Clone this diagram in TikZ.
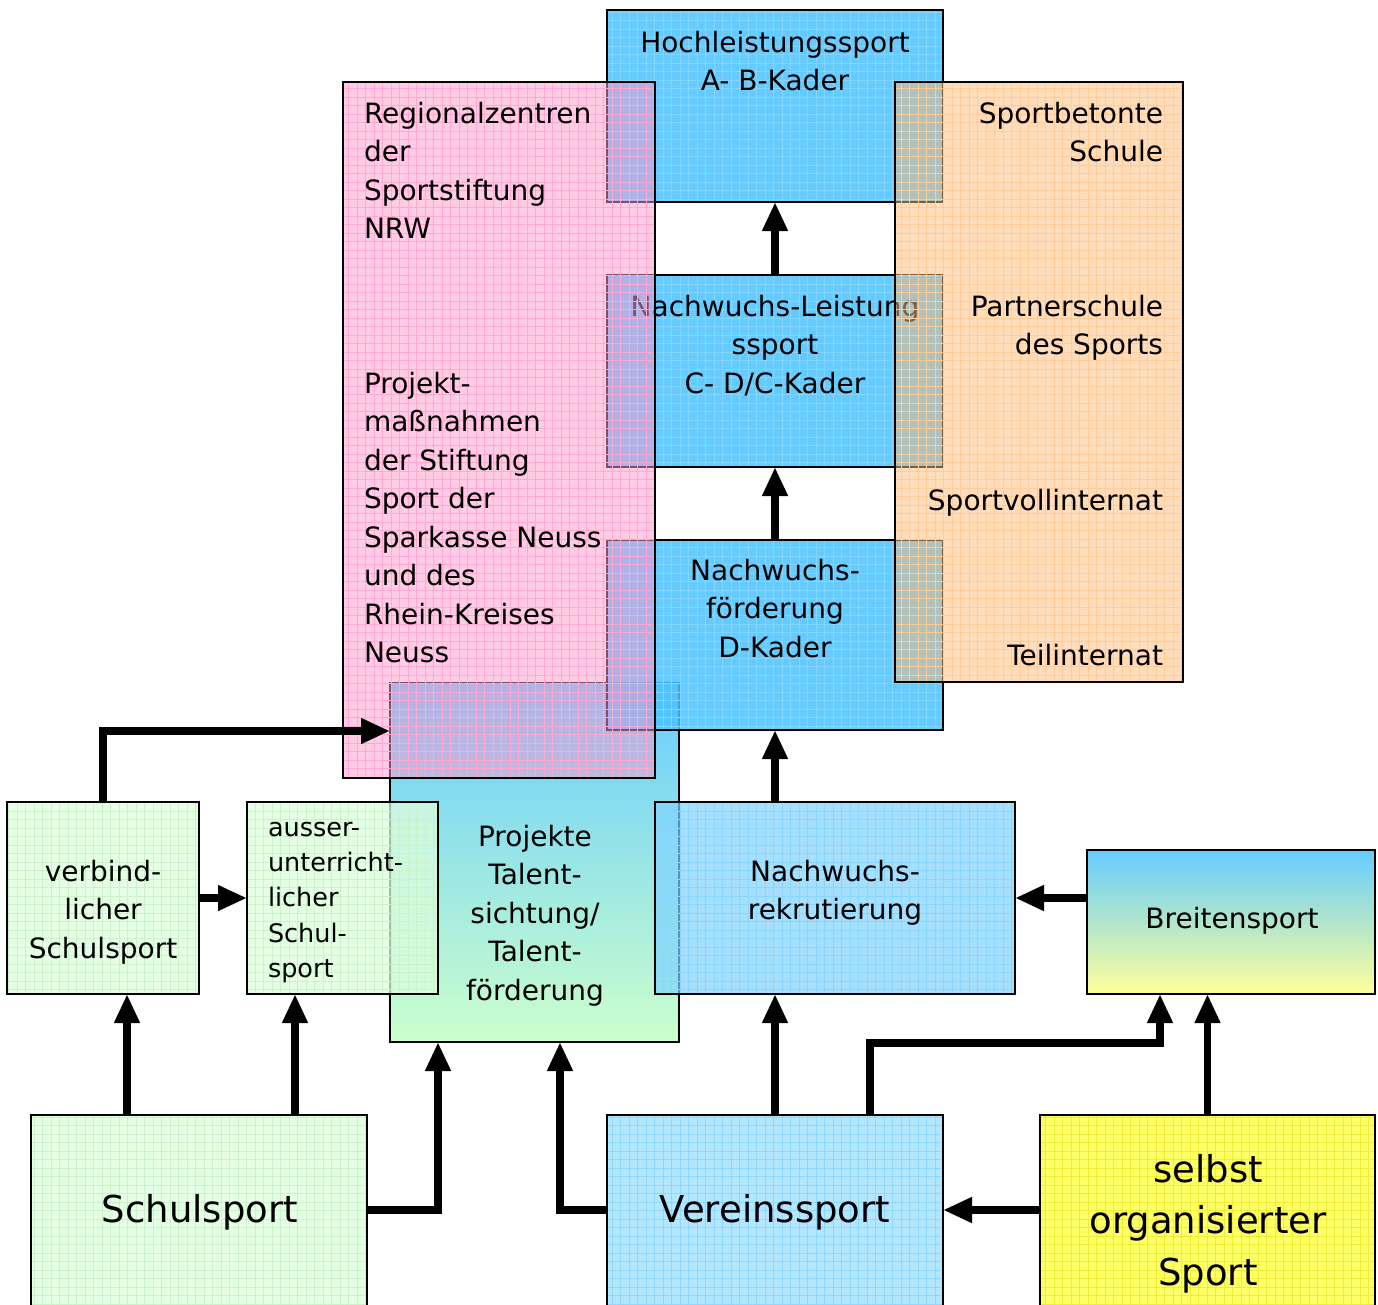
\documentclass[tikz,border=0pt]{standalone}
\usepackage{fontspec}
\setmainfont{DejaVu Sans}
\usetikzlibrary{arrows.meta,patterns.meta}
\definecolor{blueA}{HTML}{4BC3FF}
\definecolor{blueG}{HTML}{80D6FF}
\definecolor{blueTop}{HTML}{66CCFF}
\definecolor{pinkF}{HTML}{FF99CC}
\definecolor{pinkG}{HTML}{FFA8D4}
\definecolor{oraF}{HTML}{FFBB77}
\definecolor{oraG}{HTML}{FFCB98}
\definecolor{grnF}{HTML}{DDFFDD}
\definecolor{grnG}{HTML}{CCF2CC}
\definecolor{rekF}{HTML}{80D4FF}
\definecolor{rekG}{HTML}{8AD6FF}
\definecolor{verF}{HTML}{B3E6FF}
\definecolor{verG}{HTML}{8FD7FF}
\definecolor{yelF}{HTML}{FFFF66}
\definecolor{yelG}{HTML}{EEEE3A}
\definecolor{projB}{HTML}{CCFFCC}
\definecolor{breitM}{HTML}{D6EDC4}
\definecolor{breitB}{HTML}{FFFF99}
\begin{document}
\begin{tikzpicture}[x=1pt,y=-1pt,
  box/.style={draw=black, line width=1.6pt, inner sep=0pt, outer sep=0pt},
  gridpat/.style={pattern={Hatch[distance=8.5pt,line width=.6pt]}},
  bluebox/.style={box, preaction={fill=blueA, fill opacity=.85}, gridpat, pattern color=blueG},
  pinkbox/.style={box, preaction={fill=pinkF, fill opacity=.5}, gridpat, pattern color=pinkG},
  orabox/.style={box, preaction={fill=oraF, fill opacity=.5}, gridpat, pattern color=oraG},
  grnbox/.style={box, preaction={fill=grnF, fill opacity=.75}, gridpat, pattern color=grnG},
  rekbox/.style={box, preaction={fill=rekF, fill opacity=.7}, gridpat, pattern color=rekG},
  verbox/.style={box, preaction={fill=verF}, gridpat, pattern color=verG},
  yelbox/.style={box, preaction={fill=yelF}, gridpat, pattern color=yelG},
  txt/.style={inner sep=0pt, outer sep=0pt, font=\fontsize{28}{38.5}\selectfont},
  smalltxt/.style={inner sep=0pt, outer sep=0pt, font=\fontsize{25.5}{35.3}\selectfont, align=left},
  bigtxt/.style={inner sep=0pt, outer sep=0pt, font=\fontsize{37}{51.5}\selectfont, align=center},
  arr/.style={line width=7.5pt, -{Triangle[length=29pt,width=24pt]}}
]
\useasboundingbox[fill=white] (0,0) rectangle (1378,1304);

% Projekte box (gradient) underneath
\node[box, top color=blueTop, bottom color=projB, minimum width=289pt, minimum height=359pt] (proj) at (534.5,862.5) {};

% blue pyramid boxes
\node[bluebox, minimum width=336pt, minimum height=192pt] (hoch) at (775,106) {};
\node[txt, align=center, anchor=north] (hocht) at (775,31) {Hochleistungssport\\A- B-Kader};
\node[bluebox, minimum width=336pt, minimum height=192pt] (nl) at (775,371) {};
\node[txt, align=center, anchor=north] (nlt) at (775,295) {Nachwuchs-Leistung\\ssport\\C- D/C-Kader};
\node[bluebox, minimum width=336pt, minimum height=190pt] (nf) at (775,635) {};
\node[txt, align=center, anchor=north] (nft) at (775,559) {Nachwuchs-\\förderung\\D-Kader};

% pink and orange columns (semi-transparent, on top)
\node[pinkbox, minimum width=312pt, minimum height=696pt] (reg) at (499,430) {};
\node[txt, align=left, anchor=north west] (regt1) at (364,102) {Regionalzentren\\der\\Sportstiftung\\NRW};
\node[txt, align=left, anchor=north west] (regt2) at (364,372) {Projekt-\\maßnahmen\\der Stiftung\\Sport der\\Sparkasse Neuss\\und des\\Rhein-Kreises\\Neuss};

\node[orabox, minimum width=288pt, minimum height=600pt] (sch) at (1039,382) {};
\node[txt, align=right, anchor=north east] (scht1) at (1163,102) {Sportbetonte\\Schule};
\node[txt, align=right, anchor=north east] (scht2) at (1163,295) {Partnerschule\\des Sports};
\node[txt, align=right, anchor=north east] (scht3) at (1163,489) {Sportvollinternat};
\node[txt, align=right, anchor=north east] (scht4) at (1163,644) {Teilinternat};

% Projekte text
\node[txt, align=center, anchor=north] (projt) at (535,825) {Projekte\\Talent-\\sichtung/\\Talent-\\förderung};

% middle row
\node[grnbox, minimum width=192pt, minimum height=192pt] (verb) at (103,898) {};
\node[txt, align=center, anchor=north] (verbt) at (103,860) {verbind-\\licher\\Schulsport};
\node[grnbox, minimum width=191pt, minimum height=192pt] (aus) at (342.5,898) {};
\begin{scope}
\clip (247,803) rectangle (438,986);
\node[smalltxt, anchor=north west] (aust) at (268,822) {ausser-\\unterricht-\\licher\\Schul-\\sport};
\end{scope}
\node[rekbox, minimum width=360pt, minimum height=192pt] (rek) at (835,898) {};
\node[txt, align=center, anchor=north] (rekt) at (835,860) {Nachwuchs-\\rekrutierung};
\node[box, top color=blueTop, middle color=breitM, bottom color=breitB, minimum width=288pt, minimum height=144pt] (breit) at (1231,922) {};
\node[txt] (breitt) at (1232,921) {Breitensport};

% bottom row
\node[grnbox, minimum width=336pt, minimum height=200pt] (schul) at (199,1215) {};
\node[bigtxt] (schult) at (200,1212) {Schulsport};
\node[verbox, minimum width=336pt, minimum height=200pt] (ver) at (775,1215) {};
\node[bigtxt] (vert) at (775,1212) {Vereinssport};
\node[yelbox, minimum width=335pt, minimum height=200pt] (selbst) at (1207.5,1215) {};
\node[bigtxt, anchor=north] (selbstt) at (1208,1154) {selbst\\organisierter\\Sport};

% arrows
\draw[arr] (nl.north) -- (hoch.south);
\draw[arr] (nf.north) -- (nl.south);
\draw[arr] (rek.north -| nf.south) -- (nf.south);
\draw[arr] (verb.north) |- (proj.west |- 0,731);
\draw[arr] (verb.east |- 0,898) -- (aus.west |- 0,898);
\draw[arr] (breit.west |- 0,898) -- (rek.east |- 0,898);
\draw[arr] (schul.north -| 127,0) -- (verb.south -| 127,0);
\draw[arr] (schul.north -| 295,0) -- (aus.south -| 295,0);
\draw[arr] (schul.east |- 0,1210) -| (proj.south -| 438,0);
\draw[arr] (ver.west |- 0,1210) -| (proj.south -| 560,0);
\draw[arr] (ver.north) -- (ver.north |- rek.south);
\draw[arr] (ver.north -| 870,0) |- (1160,1043) -- (breit.south -| 1160,0);
\draw[arr] (selbst.north) -- (selbst.north |- breit.south);
\draw[arr] (selbst.west |- 0,1210) -- (ver.east |- 0,1210);
\end{tikzpicture}
\end{document}
